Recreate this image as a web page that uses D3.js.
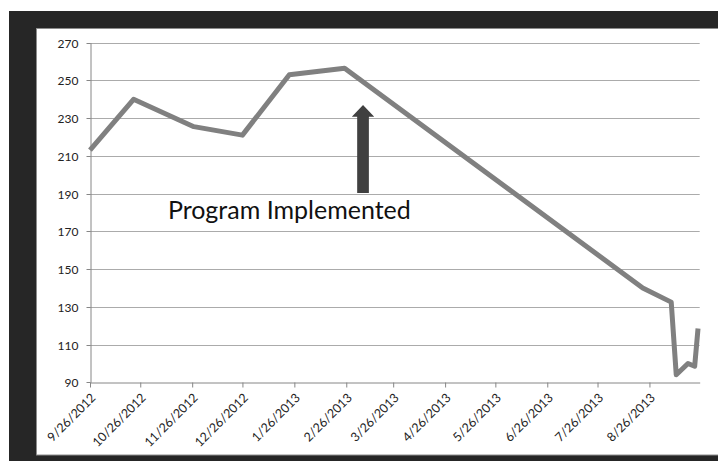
<!DOCTYPE html>
<html>
<head>
<meta charset="utf-8">
<script src="https://cdn.jsdelivr.net/npm/d3@7"></script>
<style>
  html, body { margin: 0; padding: 0; background: #fff; }
  svg { display: block; }
  text { font-family: Lato, "Open Sans", sans-serif; }
</style>
</head>
<body>
<div id="chart"></div>
<script>
// data
var dates = ['2012-09-26', '2012-10-22', '2012-11-27', '2012-12-26', '2013-01-23', '2013-02-25',
             '2013-08-22', '2013-09-08', '2013-09-11', '2013-09-18', '2013-09-22', '2013-09-24'];
var values = [213, 240, 225.5, 221, 253, 256.5, 140, 132.5, 94, 100, 98.5, 118.5];
var yTicks = [90, 110, 130, 150, 170, 190, 210, 230, 250, 270];
var xTickLabels = ['9/26/2012', '10/26/2012', '11/26/2012', '12/26/2012', '1/26/2013', '2/26/2013',
                   '3/26/2013', '4/26/2013', '5/26/2013', '6/26/2013', '7/26/2013', '8/26/2013'];
var axisEndDate = '2013-09-25';
// annotation (in data units)
var noteText = 'Program Implemented';
var arrowDate = '2013-03-08', arrowTop = 237, arrowBottom = 190.3;
var noteDate = '2013-01-23', noteValue = 176.4;

var W = 718, H = 461;
var parse = d3.timeParse('%Y-%m-%d');
var parseTick = d3.timeParse('%m/%d/%Y');

var svg = d3.select('#chart').append('svg').attr('width', W).attr('height', H);

// dark frame with the white chart area inside
svg.append('rect').attr('x', 9).attr('y', 11).attr('width', W - 9).attr('height', H - 11).attr('fill', '#262626');
svg.append('rect').attr('x', 36.5).attr('y', 28.5).attr('width', W - 36).attr('height', 455 - 28.5)
  .attr('fill', '#fff').attr('stroke', '#8c8c8c').attr('stroke-width', 1);

var x = d3.scaleTime()
  .domain([parse(dates[0]), parse(axisEndDate)])
  .range([90, 699.7]);
var y = d3.scaleLinear()
  .domain([90, 270])
  .range([382.3, 42.7]);

// horizontal gridlines
svg.append('g')
  .selectAll('line')
  .data(yTicks.slice(1))
  .enter().append('line')
  .attr('x1', 90).attr('x2', 699.7)
  .attr('y1', function(d) { return Math.round(y(d)) + 0.5; })
  .attr('y2', function(d) { return Math.round(y(d)) + 0.5; })
  .attr('stroke', '#ababab').attr('stroke-width', 1);

// y axis
var yAxis = svg.append('g')
  .attr('transform', 'translate(90.5,0)')
  .call(d3.axisLeft(y).tickValues(yTicks).tickSize(4).tickPadding(8).tickSizeOuter(0));
yAxis.select('.domain').attr('stroke', '#868686');
yAxis.selectAll('.tick line').attr('stroke', '#868686');
yAxis.selectAll('.tick').attr('transform', function(d) { return 'translate(0,' + (Math.round(y(d)) + 0.5) + ')'; });
yAxis.selectAll('text').attr('fill', '#222').style('font-size', '12px').attr('dy', '0.35em');

// x axis
var xAxis = svg.append('g')
  .attr('transform', 'translate(0,' + (Math.round(y(90)) + 0.5) + ')')
  .call(d3.axisBottom(x)
    .tickValues(xTickLabels.map(function(s) { return parseTick(s); }))
    .tickFormat(function(d, i) { return xTickLabels[i]; })
    .tickSize(5).tickSizeOuter(0));
xAxis.select('.domain').attr('stroke', '#868686');
xAxis.selectAll('.tick line').attr('stroke', '#868686');
xAxis.selectAll('text')
  .attr('fill', '#222').style('font-size', '12.5px')
  .attr('text-anchor', 'end')
  .attr('dy', 0).attr('y', 0)
  .attr('transform', 'translate(6,16) rotate(-45)');

// the series line
var line = d3.line()
  .x(function(d, i) { return x(parse(dates[i])); })
  .y(function(d) { return y(d); });
svg.append('path')
  .datum(values)
  .attr('d', line)
  .attr('fill', 'none')
  .attr('stroke', '#808080')
  .attr('stroke-width', 5)
  .attr('stroke-linejoin', 'round');

// annotation arrow
var ax = x(parse(arrowDate)), yt = y(arrowTop), yb = y(arrowBottom);
var shaftW = 11.7, headW = 22.4, headH = 11.7;
svg.append('path')
  .attr('d', 'M' + ax + ',' + yt +
    'L' + (ax + headW / 2) + ',' + (yt + headH) +
    'L' + (ax + shaftW / 2) + ',' + (yt + headH) +
    'L' + (ax + shaftW / 2) + ',' + yb +
    'L' + (ax - shaftW / 2) + ',' + yb +
    'L' + (ax - shaftW / 2) + ',' + (yt + headH) +
    'L' + (ax - headW / 2) + ',' + (yt + headH) + 'Z')
  .attr('fill', '#404040');

// annotation text, sized to the width seen in the picture
var note = svg.append('text')
  .attr('x', x(parse(noteDate)))
  .attr('y', y(noteValue))
  .attr('text-anchor', 'middle')
  .attr('fill', '#111')
  .style('font-size', '20px')
  .text(noteText);
var w = note.node().getComputedTextLength();
note.style('font-size', (20 * 243 / w) + 'px');
</script>
</body>
</html>
